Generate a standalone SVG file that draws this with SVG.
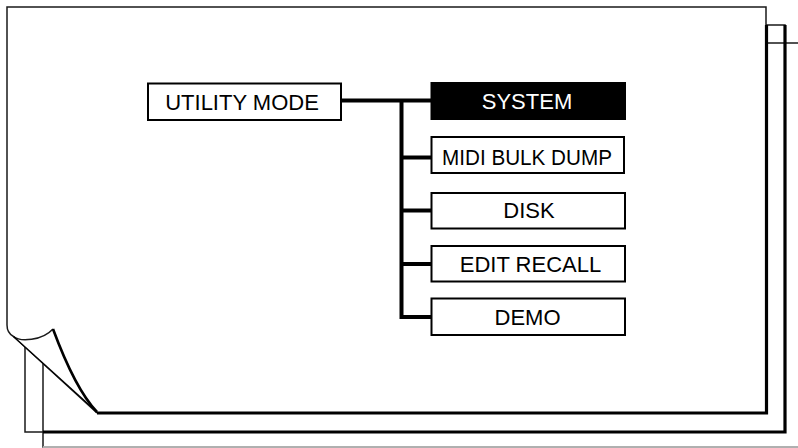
<svg xmlns="http://www.w3.org/2000/svg" width="798" height="448" viewBox="0 0 798 448">
<style>
.thin{fill:none;stroke:#1a1a1a;stroke-width:1.5}
.thick{fill:none;stroke:#000;stroke-width:3.2}
.box{fill:#fff;stroke:#000;stroke-width:2}
.sel{fill:#000;stroke:#000;stroke-width:2}
.lbl{font-family:"Liberation Sans",Arial,sans-serif;font-size:22px;fill:#000;text-anchor:middle}
.lblw{font-family:"Liberation Sans",Arial,sans-serif;font-size:22px;fill:#fff;text-anchor:middle}
.conn{fill:none;stroke:#000;stroke-width:4}
</style>
<rect width="798" height="448" fill="#fff"/>
<g id="pages">
  <rect x="43" y="43" width="800" height="404" fill="#fff" stroke="#1a1a1a" stroke-width="1.5"/>
  <line x1="43" y1="447" x2="798" y2="447" stroke="#cfcfcf" stroke-width="1.5"/>
  <rect x="25" y="25" width="760" height="407" fill="#fff" class="thin"/>
  <path class="thick" d="M785,25 V432 H43"/>
  <path d="M7,7 H766 V413 H97 L13.5,336.5 Q7,333 7,325 Z" fill="#fff" stroke="none"/>
  <path class="thin" d="M97,413 L13.5,336.5 Q7,333 7,325 V7 H766 V25"/>
  <path class="thick" d="M766.5,25 V413 H97"/>
  <path d="M13.5,336.5 C20,342 42,341 53,329 C63,356 78,392 97,412 Z" fill="#fff" stroke="none"/>
  <path class="thin" d="M13.5,336.5 C20,342 42,341 53,329"/>
  <path fill="none" stroke="#000" stroke-width="2.6" d="M53,329 C63,356 78,392 97,412"/>
  <path fill="none" stroke="#000" stroke-width="1.2" d="M13.5,336.5 L97,412"/>
</g>
<g id="connectors">
  <path class="conn" d="M341,100.5 H431 M401.5,100.5 V319 M401.5,157.5 H431 M401.5,210.5 H431 M401.5,264 H431 M401.5,317 H431"/>
</g>
<g id="utility-mode">
  <rect class="box" x="148" y="83.5" width="193" height="36.5"/>
  <text class="lbl" x="242" y="110">UTILITY MODE</text>
</g>
<g id="system">
  <rect class="sel" x="431.5" y="83" width="193.5" height="36"/>
  <text class="lblw" x="527" y="108.5">SYSTEM</text>
</g>
<g id="midi-bulk-dump">
  <rect class="box" x="431.5" y="137" width="192.5" height="36"/>
  <text class="lbl" x="527" y="165" textLength="170" lengthAdjust="spacingAndGlyphs">MIDI BULK DUMP</text>
</g>
<g id="disk">
  <rect class="box" x="431.5" y="193" width="193.5" height="35.5"/>
  <text class="lbl" x="529" y="217.5">DISK</text>
</g>
<g id="edit-recall">
  <rect class="box" x="431.5" y="246" width="193.5" height="35.5"/>
  <text class="lbl" x="530.5" y="271.5">EDIT RECALL</text>
</g>
<g id="demo">
  <rect class="box" x="431.5" y="298.5" width="193.5" height="36.5"/>
  <text class="lbl" x="527.5" y="325">DEMO</text>
</g>
</svg>
